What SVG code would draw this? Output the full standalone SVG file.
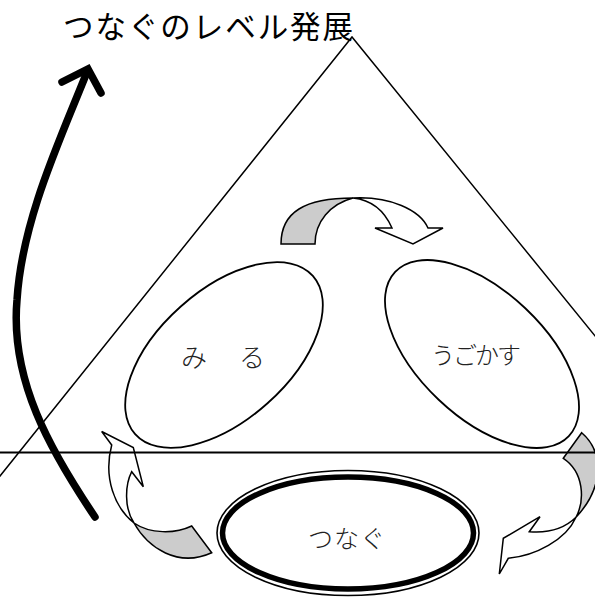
<svg xmlns="http://www.w3.org/2000/svg" width="595" height="598" viewBox="0 0 595 598">
<style>
.bg{fill:#fff}
.ln{fill:none;stroke:#000;stroke-width:1.5}
.node{fill:#fff;stroke:#000;stroke-width:1.8}
.back{fill:#ccc;stroke:#000;stroke-width:1.5;stroke-linejoin:miter}
.front{fill:#fff;stroke:#000;stroke-width:1.5;stroke-linejoin:miter}
.lbl{font-family:"Noto Sans CJK JP","Noto Sans CJK SC",sans-serif;fill:#222;font-weight:300}
.title{font-family:"Noto Sans CJK JP","Noto Sans CJK SC",sans-serif;fill:#000;font-size:30.5px}
</style>
<rect class="bg" x="0" y="0" width="595" height="598"/>
<g id="triangle">
<polyline class="ln" points="-4,481 352,37 600,342"/>
</g>
<text id="title" class="title" x="63" y="38" textLength="290" lengthAdjust="spacing">つなぐのレベル発展</text>
<g id="miru">
<ellipse class="node" cx="224" cy="355" rx="119" ry="65" transform="rotate(-41.7 224 355)"/>
<text class="lbl" x="181" y="367" font-size="26" textLength="84" lengthAdjust="spacing">み　る</text>
</g>
<g id="ugokasu">
<ellipse class="node" cx="482" cy="354" rx="119.5" ry="63" transform="rotate(43.4 482 354)"/>
<text class="lbl" x="431" y="364" font-size="24" textLength="90" lengthAdjust="spacing">うごかす</text>
</g>
<g id="tsunagu">
<ellipse cx="348" cy="533" rx="131" ry="62.5" fill="#fff" stroke="#000" stroke-width="1.6"/>
<ellipse cx="348" cy="533" rx="125.5" ry="56" fill="#fff" stroke="#000" stroke-width="5.5"/>
<text class="lbl" x="308" y="548" font-size="25" textLength="77" lengthAdjust="spacing">つなぐ</text>
</g>
<g id="connectors">
<g id="arrow-top">
<path class="back" d="M281,244 C281,212 305,198 353,198 C330,204 315,222 315,244 Z"/>
<path class="front" d="M353,198 C390,196 420,210 428,228 L443,228 L413,244 L375,228 L392,228 C385,212 372,200 353,198 Z"/>
</g>
<g id="arrow-left">
<path class="back" d="M211.7,552.7 L191.7,526 C175,534 150,534 134,523 C148,548 178,568 211.7,552.7 Z"/>
<path class="front" d="M134,523 C115,508 103,478 111.7,445 L101.7,431.5 L133.3,447.5 L143.3,486.7 L131.7,471.7 C125,485 124,508 134,523 Z"/>
</g>
<g id="arrow-right">
<path class="back" d="M563.3,458.3 L581.7,432.7 C602,450 606,485 576,517.3 C585,500 584,472 563.3,458.3 Z"/>
<path class="front" d="M576,517.3 C566,540 535,556 508.3,558.3 L499.3,574 L503.3,538.3 L540,516.7 L529.3,531.7 C545,533 563,530 576,517.3 Z"/>
</g>
</g>
<line id="baseline" x1="0" y1="452.5" x2="595" y2="452.5" stroke="#000" stroke-width="2"/>
<g id="level-arrow" fill="none" stroke="#000" stroke-width="7.5" stroke-linecap="round" stroke-linejoin="miter">
<path d="M95,517 C50,450 10,380 17,300 C22,220 60,140 87,72"/>
<polyline points="62,82 88,69 101,93"/>
</g>
</svg>
